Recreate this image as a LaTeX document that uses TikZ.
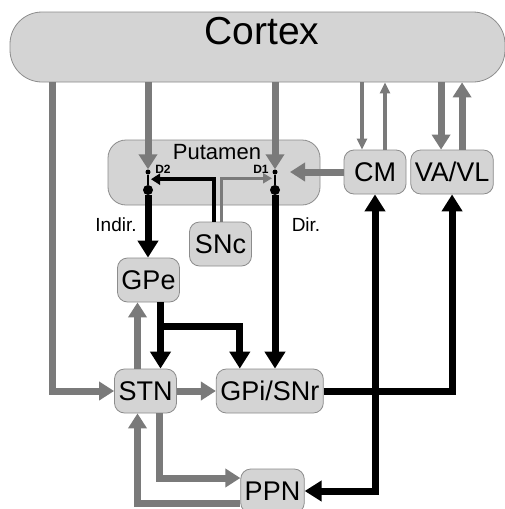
\documentclass[tikz,border=0pt]{standalone}
\usepackage{fontspec}
\setmainfont{Liberation Sans}
\usetikzlibrary{arrows.meta, positioning, calc}
\definecolor{nfill}{HTML}{D4D4D4}
\definecolor{ndraw}{HTML}{8C8C8C}
\definecolor{gline}{HTML}{7A7A7A}
\tikzset{
  nucleus/.style={rectangle, rounded corners=10pt, draw=ndraw, fill=nfill, line width=0.8pt,
              inner xsep=4pt, minimum width=62pt, minimum height=44pt, font=\fontsize{27}{30}\selectfont},
  cortexbox/.style={rectangle, rounded corners=32pt, draw=ndraw, fill=nfill, line width=0.8pt,
              minimum width=495pt, minimum height=70pt},
  areabox/.style={rectangle, rounded corners=18pt, draw=ndraw, fill=nfill, line width=0.8pt,
              minimum width=212pt, minimum height=65pt},
  bigtext/.style={font=\fontsize{39}{42}\selectfont},
  areatext/.style={font=\fontsize{22}{24}\selectfont, inner sep=0pt},
  pathlbl/.style={font=\fontsize{19}{21}\selectfont, inner sep=0pt},
  tag/.style={font=\fontsize{12}{13}\selectfont\bfseries, inner sep=0pt},
  dotsm/.style={circle, fill=black, inner sep=0pt, minimum size=5pt},
  dotbig/.style={circle, fill=black, inner sep=0pt, minimum size=10pt},
  grayflow/.style={-{Triangle[length=15pt,width=18pt]}, draw=gline, line width=7pt},
  thingray/.style={-{Triangle[length=11pt,width=10pt]}, draw=gline, line width=3.5pt},
  blackflow/.style={-{Triangle[length=17pt,width=20pt]}, draw=black, line width=7pt},
  blackboth/.style={{Triangle[length=17pt,width=20pt]}-{Triangle[length=17pt,width=20pt]}, draw=black, line width=7pt},
  stem/.style={draw=black, line width=2pt},
  snclink/.style={-{Triangle[length=9pt,width=11pt]}, draw=black, line width=4pt, shorten >=3pt},
  sncgray/.style={-{Triangle[length=9pt,width=10pt]}, draw=gline, line width=3pt, shorten >=3pt}
}

\begin{document}
\begin{tikzpicture}[x=1pt, y=-1pt]
  \useasboundingbox (0,0) rectangle (505,509);
  \fill[white] (0,0) rectangle (505,509);

  % areas
  \node[cortexbox] (cortex) at (257.5,47) {};
  \node[bigtext] (cortexlbl) at (262,31) {Cortex};
  \node[areabox] (putamen) at (214,172.5) {};
  \node[areatext] (putlbl) at (217,152) {Putamen};

  % nuclei
  \node[nucleus] (snc) at (220.5,244) {SNc};
  \node[nucleus] (cm) at (375,172) {CM};
  \node[nucleus, right=4pt of cm] (vavl) {VA/VL};
  \node[nucleus] (gpe) at (148.5,280) {GPe};
  \node[nucleus] (stn) at (145.5,391) {STN};
  \node[nucleus, right=39pt of stn] (gpi) {GPi/SNr};
  \node[nucleus] (ppn) at (272.5,491) {PPN};

  % receptors
  \node[dotsm] (d2a) at (148,172) {};
  \node[dotbig] (d2b) at (148,190) {};
  \node[dotsm] (d1a) at (275,172) {};
  \node[dotbig] (d1b) at (275,190) {};
  \node[tag] (d2lbl) at (163,169) {D2};
  \node[tag] (d1lbl) at (261,169) {D1};
  \node[pathlbl] (indir) at (116,225) {Indir.};
  \node[pathlbl] (dir) at (306,225) {Dir.};

  % helper points
  \coordinate (d2m) at ($(d2a)!0.4!(d2b)$);
  \coordinate (d1m) at ($(d1a)!0.35!(d1b)$);
  \coordinate (cmtip) at ([xshift=15pt]d1m);
  \coordinate (cxl) at ([xshift=43pt]cortex.south west);
  \coordinate (cmin) at ([xshift=-13pt]cm.north);
  \coordinate (cmout) at ([xshift=10pt]cm.north);
  \coordinate (vlin) at ([xshift=-11pt]vavl.north);
  \coordinate (vlout) at ([xshift=10pt]vavl.north);
  \coordinate (gpeout) at ([xshift=12pt]gpe.south);
  \coordinate (gpebr) at ([yshift=-24pt]gpeout);
  \coordinate (gpiin) at ([xshift=-30pt]gpi.north);
  \coordinate (stnup) at ([xshift=-8pt]stn.north);
  \coordinate (stnin) at ([xshift=-8pt]stn.south);
  \coordinate (stnout) at ([xshift=14pt]stn.south);
  \coordinate (ppnin) at ([yshift=13pt]ppn.west);
  \coordinate (ppnout) at ([yshift=-12pt]ppn.west);

  % cortical links
  \draw[grayflow] (cxl) |- (stn.west);
  \draw[grayflow] (cortex.south -| d2a) -- (d2a.north);
  \draw[grayflow] (cortex.south -| d1a) -- (d1a.north);
  \draw[thingray] (cortex.south -| cmin) -- (cmin);
  \draw[thingray] (cmout) -- (cortex.south -| cmout);
  \draw[grayflow] (cortex.south -| vlin) -- (vlin);
  \draw[grayflow] (vlout) -- (cortex.south -| vlout);
  \draw[grayflow] (cm.west) -- (cm.west -| cmtip);

  % striatum
  \draw[stem] (d2a) -- (d2b);
  \draw[stem] (d1a) -- (d1b);
  \draw[snclink] ([xshift=-7pt]snc.north) |- (d2m);
  \draw[sncgray] ([xshift=1pt]snc.north) |- (d1m);
  \draw[blackflow] (d2b) -- (d2b |- gpe.north);
  \draw[blackflow] (d1b) -- (d1b |- gpi.north);

  % basal ganglia loop
  \draw[blackflow] (gpeout) -- (gpeout |- stn.north);
  \draw[blackflow] (gpebr) -| (gpiin);
  \draw[grayflow] (stnup) -- (stnup |- gpe.south);
  \draw[grayflow] (stn.east) -- (gpi.west);
  \draw[grayflow] (stnout) |- (ppnin);
  \draw[grayflow] (ppnout) -| (stnin);
  \draw[blackflow] (gpi.east) -| (vavl.south);
  \draw[blackboth] (ppn.east) -| (cm.south);
\end{tikzpicture}
\end{document}
